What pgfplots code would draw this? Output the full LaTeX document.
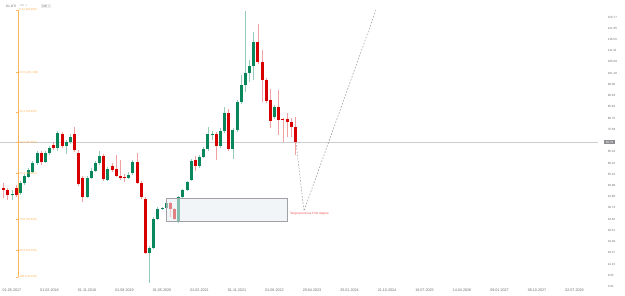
\documentclass[border=0pt]{standalone}
\usepackage{pgfplots}
\pgfplotsset{compat=1.18}
\usepackage{pgfplotstable}
\usepackage{fontspec}
\setmainfont{Liberation Sans}
\definecolor{cgreen}{RGB}{8,135,90}
\definecolor{cred}{RGB}{215,0,0}
\definecolor{gwick}{RGB}{150,205,185}
\definecolor{rwick}{RGB}{240,160,160}
\definecolor{fibor}{RGB}{255,180,90}
\definecolor{lblgray}{RGB}{110,110,118}
\definecolor{boxgray}{RGB}{160,160,165}
\definecolor{boxfill}{RGB}{232,236,242}

% month index m (0 = Jan 2017), open, high, low, close
\pgfplotstableread{
m o h l c
4 45.48 47.90 43.34 46.08
6 46.39 52.00 45.62 50.95
7 50.95 55.19 50.18 54.28
8 53.96 57.93 53.37 57.02
9 56.24 61.12 55.65 60.07
10 60.07 65.68 59.30 64.63
12 60.80 65.68 60.21 64.63
13 64.63 67.96 63.86 66.91
15 66.91 74.80 65.68 74.02
17 67.96 70.69 64.31 69.65
18 69.65 73.43 68.87 72.20
22 44.84 54.28 44.25 53.23
23 53.51 57.93 52.91 56.70
24 56.70 61.12 56.11 60.07
25 60.07 65.81 59.30 63.40
27 52.46 58.38 52.00 57.34
32 53.51 56.11 52.91 54.74
33 55.51 61.58 54.74 60.53
37 19.31 22.37 5.50 21.32
38 21.46 35.59 21.00 34.68
39 34.68 40.15 34.22 39.24
40 39.24 40.15 38.78 39.69
41 39.69 42.88 39.24 41.97
44 33.31 45.16 32.85 44.71
45 44.71 48.35 44.25 47.90
46 47.90 52.00 47.44 51.55
47 52.46 62.03 52.00 61.12
49 58.84 63.86 57.93 62.94
50 62.94 67.50 62.49 66.59
51 66.59 76.62 65.68 73.43
52 73.20 74.80 70.69 73.43
54 67.96 76.16 67.05 74.80
55 74.80 85.74 73.89 83.00
57 66.59 76.16 62.03 75.25
58 75.25 88.93 74.34 88.02
59 88.02 100.33 87.11 95.77
60 95.77 129.51 92.58 101.24
61 101.24 107.17 97.14 104.43
62 104.43 119.93 98.05 115.37
67 81.18 86.65 80.27 85.74
}\greentab

\pgfplotstableread{
m o h l c
2 48.67 51.09 44.25 47.90
3 47.90 48.81 43.34 45.62
5 48.95 50.18 44.71 45.48
11 64.63 65.68 59.30 60.80
14 68.41 69.78 66.13 66.91
16 73.29 74.34 67.05 67.96
19 73.29 76.76 65.22 66.13
20 64.63 66.13 49.72 50.63
21 53.23 54.28 42.56 44.84
26 63.40 64.31 52.00 52.78
28 58.98 60.21 56.11 57.02
29 57.34 63.86 53.83 54.42
30 54.28 61.58 52.46 53.51
31 53.96 55.19 51.55 53.51
34 60.80 64.63 50.63 51.23
35 50.95 52.00 43.80 44.84
36 43.80 44.71 18.72 19.31
42 41.97 42.43 35.59 39.24
43 39.24 39.69 34.22 34.68
48 61.58 63.40 56.56 58.84
53 73.43 74.34 61.58 67.96
56 83.00 84.83 65.68 66.59
63 115.37 123.58 105.34 106.25
64 106.25 111.72 88.02 98.05
65 98.05 98.96 87.56 88.47
66 88.93 93.94 76.16 79.36
68 85.74 93.49 72.97 79.81
69 80.27 80.72 69.78 79.81
70 80.27 83.00 72.06 78.90
71 78.90 80.72 72.06 76.62
72 76.62 81.18 63.86 69.78
}\redtab

\begin{document}
\begin{tikzpicture}
\path[use as bounding box] (0,0) rectangle (625bp,296bp);
\begin{axis}[
  at={(0,8bp)}, anchor=south west,
  width=598bp, height=288bp, scale only axis,
  xmin=1.12, xmax=144.63, ymin=3.22, ymax=134.52,
  axis line style={draw=none},
  major tick length=0pt,
  clip=false,
  /pgf/number format/assume math mode=true,
  xtick={4,13,22,31,40,49,58,67,76,85,94,103,112,121,130,139},
  xticklabels={01.05.2017,01.02.2018,01.11.2018,01.08.2019,01.05.2020,01.02.2021,01.11.2021,01.08.2022,29.04.2023,25.01.2024,21.10.2024,18.07.2025,14.04.2026,09.01.2027,06.10.2027,02.07.2028},
  xticklabel style={font=\fontsize{3.7bp}{4bp}\selectfont, text=lblgray, inner sep=0pt, anchor=north, yshift=-0.8bp},
  yticklabel pos=right,
  ytick={3.91,9.03,14.15,19.27,24.39,29.51,34.62,39.74,44.86,49.98,55.10,60.22,65.34,75.58,80.70,85.82,90.94,96.06,101.18,106.29,111.41,116.53,121.65,126.77},
  yticklabels={3.91,9.03,14.15,19.27,24.39,29.51,34.62,39.74,44.86,49.98,55.10,60.22,65.34,75.58,80.70,85.82,90.94,96.06,101.18,106.29,111.41,116.53,121.65,126.77},
  yticklabel style={font=\fontsize{3bp}{3.4bp}\selectfont, text=lblgray, inner sep=0pt, anchor=west, xshift=9.6bp},
]
% current price line
\addplot[draw={rgb,255:red,205;green,205;blue,208}, line width=0.5bp, forget plot] coordinates {(1.12,69.78) (144.63,69.78)};

% wicks
\addplot[draw=none, mark=none, forget plot, error bars/.cd, y dir=plus, y explicit, error mark=none,
  error bar style={draw=gwick, line width=0.7bp}]
  table[x=m, y=l, y error expr=\thisrow{h}-\thisrow{l}] {\greentab};
\addplot[draw=none, mark=none, forget plot, error bars/.cd, y dir=plus, y explicit, error mark=none,
  error bar style={draw=rwick, line width=0.7bp}]
  table[x=m, y=l, y error expr=\thisrow{h}-\thisrow{l}] {\redtab};
% bodies
\addplot[draw=none, mark=none, forget plot, error bars/.cd, y dir=plus, y explicit, error mark=none,
  error bar style={draw=cgreen, line width=3bp}]
  table[x=m, y=o, y error expr=\thisrow{c}-\thisrow{o}] {\greentab};
\addplot[draw=none, mark=none, forget plot, error bars/.cd, y dir=plus, y explicit, error mark=none,
  error bar style={draw=cred, line width=3bp}]
  table[x=m, y=c, y error expr=\thisrow{o}-\thisrow{c}] {\redtab};

% zone rectangle
\addplot[draw=boxgray, line width=0.6bp, fill=boxfill, fill opacity=0.55, forget plot]
  coordinates {(40.96,33.62) (70.07,33.62) (70.07,44.11) (40.96,44.11) (40.96,33.62)};

% projected path
\addplot[draw={rgb,255:red,150;green,150;blue,150}, line width=0.5bp, dash pattern=on 1.6bp off 1.6bp, forget plot]
  coordinates {(72.15,69.78) (74.07,38.33) (91.35,129.96)};

% fibonacci tool
\addplot[draw=fibor, line width=0.5bp, forget plot] coordinates {(5.51,129.96) (5.51,8.24)};
\addplot[draw=fibor, line width=0.5bp, forget plot] coordinates {(4.89,129.96) (5.51,129.96)};
\addplot[draw=fibor, line width=0.5bp, forget plot] coordinates {(4.89,101.38) (5.51,101.38)};
\addplot[draw=fibor, line width=0.5bp, forget plot] coordinates {(4.89,83.46) (5.51,83.46)};
\addplot[draw=fibor, line width=0.5bp, forget plot] coordinates {(4.89,69.55) (5.51,69.55)};
\addplot[draw=fibor, line width=0.5bp, forget plot] coordinates {(4.89,55.42) (5.51,55.42)};
\addplot[draw=fibor, line width=0.5bp, forget plot] coordinates {(4.89,34.45) (5.51,34.45)};
\addplot[draw=fibor, line width=0.5bp, forget plot] coordinates {(4.89,20.32) (5.51,20.32)};
\addplot[draw=fibor, line width=0.5bp, forget plot] coordinates {(4.89,8.24) (5.51,8.24)};

\begin{scope}[every node/.style={font=\fontsize{2.9bp}{3.2bp}\selectfont, text=fibor, inner sep=0pt, anchor=west}]
\node at (axis cs:5.75,129.96) {0.0 (129.960)};
\node at (axis cs:5.75,101.38) {23.6 (101.380)};
\node at (axis cs:5.75,83.46) {38.2 (83.460)};
\node at (axis cs:5.75,69.55) {50.0 (69.550)};
\node at (axis cs:5.75,55.42) {61.8 (55.420)};
\node at (axis cs:5.75,34.45) {78.6 (34.450)};
\node at (axis cs:5.75,20.32) {88.6 (20.320)};
\node at (axis cs:5.75,8.24) {100.0 (8.240)};
\end{scope}

% annotation text
\node[font=\fontsize{3.1bp}{3.4bp}\selectfont, text={rgb,255:red,235;green,80;blue,80}, inner sep=0pt, anchor=west] at (axis cs:70.7,37.28) {Target previous First degree};

% price label
\node[fill={rgb,255:red,140;green,140;blue,145}, text=white, font=\fontsize{3bp}{3.4bp}\selectfont, inner xsep=1.6bp, inner ysep=1.2bp, anchor=west] at (axis cs:144.63,69.78) [xshift=6bp] {69.78};
\end{axis}

% header
\node[font=\fontsize{3.2bp}{3.6bp}\selectfont, text=lblgray, anchor=west, inner sep=0pt] at (6bp,290bp) {DL.BTI};
\node[font=\fontsize{3bp}{3.4bp}\selectfont, text={rgb,255:red,170;green,170;blue,175}, anchor=west, inner sep=0pt] at (20bp,290bp) {mo \,v};
\node[font=\fontsize{3bp}{3.4bp}\selectfont, text=lblgray, anchor=west, draw={rgb,255:red,210;green,210;blue,215}, line width=0.3bp, inner xsep=1.2bp, inner ysep=0.8bp, rounded corners=0.6bp] at (41bp,290bp) {MR \,v};
\end{tikzpicture}
\end{document}
